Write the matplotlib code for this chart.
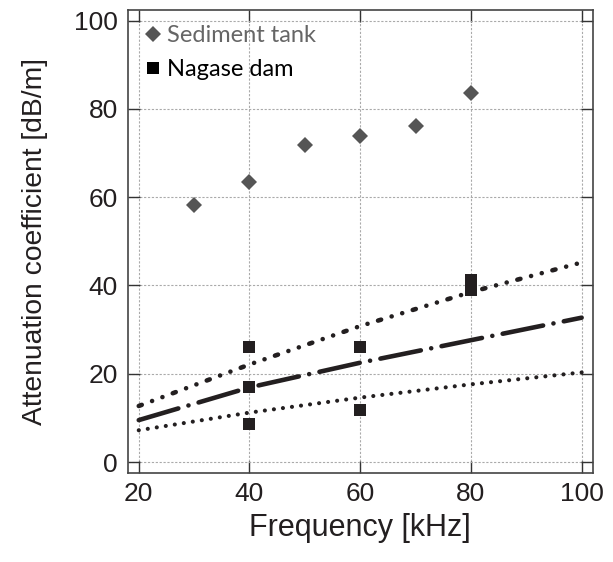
import matplotlib.pyplot as plt
from matplotlib import font_manager

# measured points
freq_tank = [30, 40, 50, 60, 70, 80]
atten_tank = [58.3, 63.4, 71.8, 73.8, 76.1, 83.6]

freq_dam = [40, 40, 40, 60, 60, 80, 80]
atten_dam = [26.1, 16.9, 8.6, 26.0, 11.8, 41.3, 38.9]

# fitted curves (read at grid lines)
freq_fit = [20, 40, 60, 80, 100]
fit_upper = [12.7, 22.1, 30.8, 38.5, 45.2]
fit_mid = [9.5, 16.9, 22.5, 27.6, 32.7]
fit_lower = [7.2, 11.2, 14.6, 17.6, 20.3]

xticks = [20, 40, 60, 80, 100]
yticks = [0, 20, 40, 60, 80, 100]

# make sure Arial-like font is resolved
font_manager.findfont(font_manager.FontProperties(family=['Liberation Sans']))
plt.rcParams['font.family'] = ['Liberation Sans', 'DejaVu Sans']

fig = plt.figure(figsize=(6.13, 5.62), dpi=100)
ax = fig.add_axes([0.2083, 0.1578, 0.7586, 0.8249])

dark = '#231f20'
lw = 3.3
ax.plot(freq_fit, fit_upper, color=dark, lw=lw, dash_capstyle='round',
        linestyle=(0, (0.7, 2.4, 0.01, 2.4, 0.01, 2.4)))
ax.plot(freq_fit, fit_mid, color=dark, lw=lw, dash_capstyle='round',
        linestyle=(0, (9.0, 2.3, 0.01, 2.3)))
ax.plot(freq_fit, fit_lower, color=dark, lw=lw * 0.9, dash_capstyle='round',
        linestyle=(0, (0.01, 2.2)))

ax.plot(freq_tank, atten_tank, 'D', color='#555555', ms=8.6, mew=0,
        label='Sediment tank', zorder=3)
ax.plot(freq_dam, atten_dam, 's', color=dark, ms=9.1, mew=0,
        label='Nagase dam', zorder=3)

ax.set_xlim(18, 102)
ax.set_ylim(-2.55, 102.45)
ax.set_xticks(xticks)
ax.set_yticks(yticks)
ax.tick_params(direction='in', length=8.5, width=1, color='#333333',
               top=True, right=True, labelsize=19, labelcolor='#231f20')
ax.tick_params(axis='y', pad=7)
ax.tick_params(axis='x', pad=6)
ax.grid(True, color='#aaaaaa', lw=0.8, linestyle=(0, (2, 1.5)))
for s in ax.spines.values():
    s.set_color('#444444')
    s.set_linewidth(1.2)

ax.set_xlabel('Frequency [kHz]', fontsize=22, color='#231f20', labelpad=5)
ax.set_ylabel('Attenuation coefficient [dB/m]', fontsize=20.3, color='#231f20', labelpad=19)

leg = ax.legend(loc='upper left', bbox_to_anchor=(-0.015, 1.012), frameon=False,
                handlelength=0.9, handletextpad=0.15, labelspacing=0.55,
                prop={'family': 'Lato', 'size': 17},
                labelcolor=['#666666', '#000000'])
leg.legend_handles[1].set_color('black')

fig.savefig('out.png', dpi=100)
